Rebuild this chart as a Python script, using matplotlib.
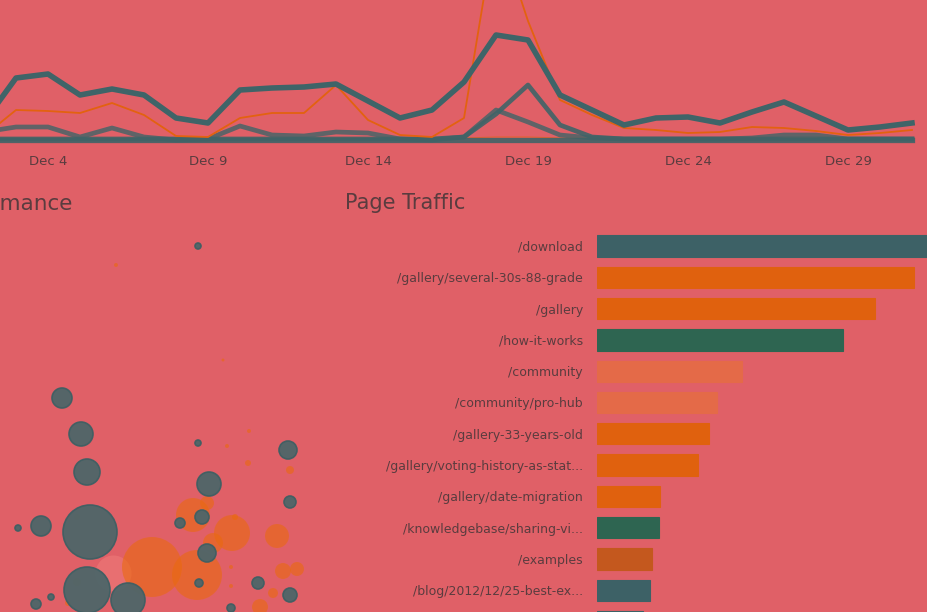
import matplotlib
matplotlib.use("Agg")
import matplotlib.pyplot as plt

plt.rcParams['font.family'] = ['DejaVu Sans']

BG = '#E06067'
DARK = '#3F6468'
ORANGE = '#E3620F'
TXT = '#5A3C3F'

# ---- line chart data (days of December) ----
days = list(range(2, 32))
tick_days = [4, 9, 14, 19, 24, 29]
tick_labels = ['Dec 4', 'Dec 9', 'Dec 14', 'Dec 19', 'Dec 24', 'Dec 29']
visits_main = [18, 62, 66, 45, 51, 45, 22, 17, 50, 52, 53, 56, 39, 22, 30, 58,
               105, 100, 45, 30, 15, 22, 23, 17, 28, 38, 24, 10, 13, 17]
visits_orange = [4, 30, 29, 27, 37, 25, 4, 3, 22, 27, 27, 55, 20, 5, 3, 22,
                 216, 119, 40, 25, 12, 10, 7, 8, 13, 12, 9, 5, 7, 10]
visits_b = [1, 1, 1, 1, 1, 1, 1, 1, 1, 1, 1, 1, 1, 1, 1, 3,
            26, 55, 15, 3, 1, 1, 1, 1, 1, 1, 1, 1, 1, 1]
visits_c = [8, 13, 13, 3, 12, 3, 0, 1, 14, 5, 4, 8, 7, 1, 0, 3,
            30, 18, 5, 2, 1, 1, 1, 1, 2, 5, 5, 1, 1, 1]
visits_d = [0, 0, 0, 0, 0, 0, 0, 0, 0, 0, 0, 0, 0, 0, 0, 0,
            0, 0, 0, 0, 0, 0, 0, 0, 0, 0, 0, 0, 0, 0]
visits_faint = [2, 2, 2, 2, 2, 2, 2, 2, 2, 2, 2, 2, 2, 2, 2, 2,
                3, 3, 2, 2, 2, 2, 2, 2, 2, 2, 2, 2, 2, 2]

# ---- page traffic data ----
pages = ['/download', '/gallery/several-30s-88-grade', '/gallery', '/how-it-works',
         '/community', '/community/pro-hub', '/gallery-33-years-old',
         '/gallery/voting-history-as-stat...', '/gallery/date-migration',
         '/knowledgebase/sharing-vi...', '/examples', '/blog/2012/12/25-best-ex...',
         '/blog/2013/01/07-new-fe...']
pageviews = [3400, 3170, 2780, 2460, 1450, 1200, 1120, 1010, 630, 620, 550, 530, 460]
bar_colors = ['#3D6166', '#E0610E', '#E0610E', '#2E6551', '#E46A48', '#E46A48',
              '#E0610E', '#E0610E', '#E0610E', '#2E6551', '#C4581E', '#3D6166', '#3D6166']

# ---- performance bubble data ----
dark_x = [62, 81, 87, 90, 41, 18, 87, 128, 36, 51, 198, 209, 202, 180, 207, 199,
          288, 290, 258, 290, 231, 198]
dark_y = [214, 178, 140, 80, 86, 84, 22, 12, 8, 15, 169, 128, 95, 89, 59, 29,
          162, 110, 29, 17, 4, 366]
dark_r = [10, 12, 13, 27, 10, 3, 23, 17, 5, 3, 3, 12, 7, 5, 9, 4,
          9, 6, 6, 7, 4, 3]
orange_x = [152, 197, 193, 232, 277, 207, 248, 290, 227, 249, 283, 297, 273, 77,
            77, 231, 231, 260, 68, 213, 235, 116, 223]
orange_y = [45, 37, 97, 79, 76, 109, 149, 142, 166, 181, 41, 43, 19, 30,
            95, 45, 26, 5, 9, 69, 95, 347, 252]
orange_r = [30, 25, 17, 18, 12, 7, 3, 4, 2, 2, 8, 7, 5, 4,
            3, 2, 2, 8, 3, 10, 3, 2, 1.5]
pink_x = [113]
pink_y = [39]
pink_r = [18]

W, H = 927, 612
fig = plt.figure(figsize=(W / 100, H / 100), dpi=100, facecolor=BG)

# ---------- top line chart ----------
ax = fig.add_axes([0, 1 - 145 / H, 1, 145 / H])
ax.set_facecolor(BG)
ax.plot(days, visits_faint, color=ORANGE, lw=0.8, alpha=0.6)
ax.plot(days, visits_d, color=DARK, lw=3.8, alpha=0.9)
ax.plot(days, visits_c, color=DARK, lw=3.4, alpha=0.8)
ax.plot(days, visits_b, color=DARK, lw=3.4, alpha=0.9)
ax.plot(days, visits_orange, color=ORANGE, lw=1.3)
ax.plot(days, visits_main, color=DARK, lw=4)
ax.set_xticks(tick_days)
ax.set_xticklabels(tick_labels)
ax.set_xlim(2.5, 4 + (W - 48) / 32.0)
ax.set_ylim(-5, 140)
ax.tick_params(axis='x', length=0, pad=7, labelsize=9.5, labelcolor=TXT)
ax.set_yticks([])
for s in ax.spines.values():
    s.set_visible(False)

# ---------- page traffic bars ----------
bx = fig.add_axes([597 / W, 0, 1 - 597 / W, (H - 230) / H])
bx.set_facecolor(BG)
pos = list(range(len(pages)))
bx.barh(pos, pageviews, height=0.68, color=bar_colors,
        edgecolor=bar_colors, linewidth=0.8)
bx.set_yticks(pos)
bx.set_yticklabels(pages)
bx.set_xticks([])
bx.set_xlim(0, 3300)
bx.set_ylim((H - 246) / 31.3, -(246 - 230) / 31.3)
bx.tick_params(axis='y', length=0, pad=10, labelsize=9, labelcolor=TXT)
for s in bx.spines.values():
    s.set_visible(False)
fig.text(345 / W, 1 - 203 / H, 'Page Traffic', fontsize=15, color=TXT,
         ha='left', va='center')

# ---------- performance bubbles ----------
sx = fig.add_axes([0, 0, 335 / W, (H - 225) / H])
sx.set_facecolor('none')
def sz(r):
    return [(2 * v * 0.72) ** 2 for v in r]
sx.scatter(pink_x, pink_y, s=sz(pink_r), color='#EE7A78', alpha=0.6, linewidths=0)
sx.scatter(orange_x, orange_y, s=sz(orange_r), color='#EA6A10', alpha=0.6,
           linewidths=0)
sx.scatter(dark_x, dark_y, s=sz(dark_r), color='#4D6669', alpha=0.95,
           edgecolors='#3F5F63', linewidths=1.2)
sx.set_xlim(0, 335)
sx.set_ylim(0, H - 225)
sx.axis('off')
fig.text(72 / W, 1 - 204 / H, 'Page Performance', fontsize=15.5, color=TXT,
         ha='right', va='center')

fig.savefig('out.png', dpi=100, facecolor=BG)
